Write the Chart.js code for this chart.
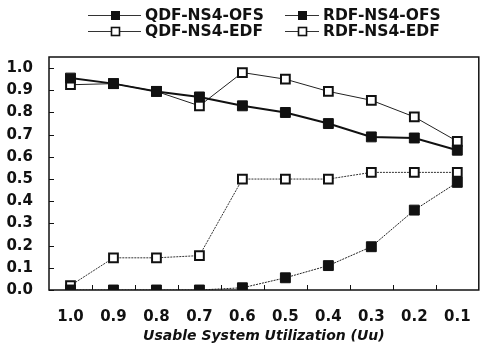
<!DOCTYPE html>
<html>
<head>
<meta charset="utf-8">
<script src="https://cdn.jsdelivr.net/npm/chart.js@4/dist/chart.umd.min.js"></script>
<style>
  html, body { margin: 0; padding: 0; background: #fff; }
</style>
</head>
<body>
<canvas id="myChart" width="489" height="354"></canvas>
<script>
const utilization = ["1.0", "0.9", "0.8", "0.7", "0.6", "0.5", "0.4", "0.3", "0.2", "0.1"];
const qdfOfs = [0.955, 0.93, 0.895, 0.87, 0.83, 0.80, 0.75, 0.69, 0.685, 0.63];
const rdfOfs = [0.0, 0.0, 0.0, 0.0, 0.01, 0.055, 0.11, 0.195, 0.36, 0.485];
const qdfEdf = [0.925, 0.93, 0.895, 0.83, 0.98, 0.95, 0.895, 0.855, 0.78, 0.67];
const rdfEdf = [0.02, 0.145, 0.145, 0.155, 0.50, 0.50, 0.50, 0.53, 0.53, 0.53];
const yTicks = [0, 0.1, 0.2, 0.3, 0.4, 0.5, 0.6, 0.7, 0.8, 0.9, 1.0];

const FONT = "'DejaVu Sans', sans-serif";

// box round the plot, small inward ticks, and the two-column legend
const framePlugin = {
  id: "frame",
  afterDraw(chart) {
    const ctx = chart.ctx;
    const a = chart.chartArea;
    const x = chart.scales.x, y = chart.scales.y;
    ctx.save();
    ctx.strokeStyle = "#111";
    ctx.lineWidth = 1.5;
    ctx.strokeRect(a.left, a.top, a.right - a.left, a.bottom - a.top);
    ctx.lineWidth = 1;
    ctx.beginPath();
    yTicks.forEach((v) => {
      const py = Math.round(y.getPixelForValue(v)) + 0.5;
      ctx.moveTo(a.left, py);
      ctx.lineTo(a.left + 5, py);
    });
    for (let i = 0; i < utilization.length - 1; i++) {
      const px = Math.round((x.getPixelForValue(i) + x.getPixelForValue(i + 1)) / 2) + 0.5;
      ctx.moveTo(px, a.bottom);
      ctx.lineTo(px, a.bottom - 5);
    }
    ctx.stroke();

    // legend
    const cols = [{ x: 88, len: 53 }, { x: 285, len: 34 }];
    const rowY = [15, 31];
    ctx.font = "bold 15.5px " + FONT;
    ctx.textBaseline = "middle";
    chart.data.datasets.forEach((ds, i) => {
      const c = cols[i % 2], ly = rowY[Math.floor(i / 2)];
      const mx = c.x + Math.round(c.len / 2) - 4;
      ctx.strokeStyle = "#333";
      ctx.lineWidth = 1;
      ctx.beginPath();
      ctx.moveTo(c.x, ly + 0.5);
      ctx.lineTo(c.x + c.len, ly + 0.5);
      ctx.stroke();
      if (ds.filled) {
        ctx.fillStyle = "#111";
        ctx.fillRect(mx, ly - 4, 9, 9);
      } else {
        ctx.fillStyle = "#fff";
        ctx.fillRect(mx, ly - 4, 9, 9);
        ctx.strokeStyle = "#111";
        ctx.lineWidth = 1.6;
        ctx.strokeRect(mx + 0.5, ly - 3.5, 8, 8);
      }
      ctx.fillStyle = "#111";
      ctx.fillText(ds.label, c.x + c.len + 4, ly + 1);
    });
    ctx.restore();
  },
};

const filledPt = { pointStyle: "rect", pointRadius: 7, pointBackgroundColor: "#111", pointBorderColor: "#111", pointBorderWidth: 1 };
const openPt = { pointStyle: "rect", pointRadius: 6.2, pointBackgroundColor: "#fff", pointBorderColor: "#111", pointBorderWidth: 2 };

new Chart(document.getElementById("myChart"), {
  type: "line",
  data: {
    labels: utilization,
    datasets: [
      Object.assign({ label: "QDF-NS4-OFS", data: qdfOfs, filled: true, borderColor: "#111", borderWidth: 2, order: 1 }, filledPt),
      Object.assign({ label: "RDF-NS4-OFS", data: rdfOfs, filled: true, borderColor: "#222", borderWidth: 1, borderDash: [2, 1], order: 2 }, filledPt),
      Object.assign({ label: "QDF-NS4-EDF", data: qdfEdf, filled: false, borderColor: "#222", borderWidth: 1, order: 3 }, openPt),
      Object.assign({ label: "RDF-NS4-EDF", data: rdfEdf, filled: false, borderColor: "#333", borderWidth: 1, borderDash: [2, 1], order: 4 }, openPt),
    ],
  },
  options: {
    responsive: false,
    animation: false,
    devicePixelRatio: 1,
    layout: { padding: { left: 0, right: 2, top: 57, bottom: 0 } },
    plugins: { legend: { display: false }, tooltip: { enabled: false } },
    elements: { line: { tension: 0 } },
    scales: {
      x: {
        offset: true,
        grid: { display: false, drawTicks: false },
        border: { display: false },
        ticks: { color: "#111", padding: 18, font: { family: FONT, size: 15, weight: "bold" } },
        title: {
          display: true,
          text: "Usable System Utilization (Uu)",
          color: "#111",
          padding: { top: 0, bottom: 9 },
          font: { family: FONT, size: 14, weight: "bold", style: "italic" },
        },
        afterFit(s) { s.height = 64; },
      },
      y: {
        min: 0,
        max: 1.05,
        grid: { display: false, drawTicks: false },
        border: { display: false },
        ticks: {
          stepSize: 0.1,
          color: "#111",
          padding: 16,
          font: { family: FONT, size: 15, weight: "bold" },
          callback: (v) => v.toFixed(1),
        },
        afterBuildTicks(s) { s.ticks = yTicks.map((v) => ({ value: v })); },
        afterFit(s) { s.width = 49; },
      },
    },
  },
  plugins: [framePlugin],
});
</script>
</body>
</html>
